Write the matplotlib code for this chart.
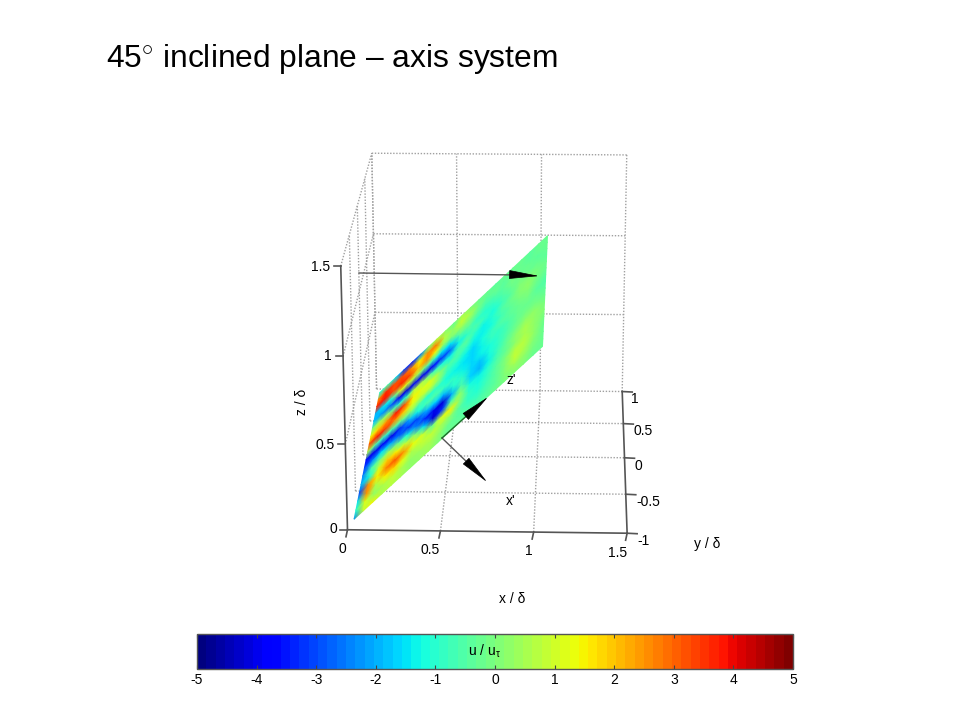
import numpy as np
import matplotlib
matplotlib.use('Agg')
import matplotlib.pyplot as plt
from matplotlib.cm import ScalarMappable
from matplotlib.colors import Normalize

plt.rcParams['font.family'] = ['Liberation Sans', 'DejaVu Sans']
plt.rcParams['axes.unicode_minus'] = False
plt.rcParams['mathtext.fontset'] = 'custom'
plt.rcParams['mathtext.rm'] = 'Liberation Sans'
plt.rcParams['mathtext.it'] = 'Liberation Sans'

x_ticks = [0, 0.5, 1, 1.5]
y_ticks = [-1, -0.5, 0, 0.5, 1]
z_ticks = [0, 0.5, 1, 1.5]
bar_ticks = [-5, -4, -3, -2, -1, 0, 1, 2, 3, 4, 5]

# position along the plane, left to right
plane_u = [0, .05, .1, .15, .2, .25, .3, .35, .4, .45, .5, .55, .6, .65, .7, .75, .8, .85, .9, .95, 1]
# position across the plane, top edge first
plane_v = [1, .9375, .875, .8125, .75, .6875, .625, .5625, .5, .4375, .375, .3125, .25, .1875, .125, .0625, 0]
# u / u_tau
plane_vals = [
    [-1.0, -.5, -1.5, -3.0, -3.4, -2.4, 0.0, 0.7, 0.2, -.2, 0.5, 0.1, -.3, -.3, -.4, -.3, -.2, -.3, -.4, -.3, -.2],
    [2.5, 3.6, 3.2, 3.2, 2.6, 1.5, 2.5, 2.8, 0.7, 0.2, 0.9, 0.5, -.1, -.4, -.3, -.4, -.2, -.3, -.4, -.2, -.3],
    [3.6, 3.8, 3.2, 3.6, 3.4, 2.0, 2.6, 1.5, 0.3, 0.0, 0.3, 0.0, -.4, -.7, -.6, -.4, -.1, -.2, -.3, -.4, -.2],
    [-2.0, -1.5, -1.0, 1.2, 1.0, 0.6, -.3, -.8, -1.5, -1.5, -.6, -.4, -.8, -1.0, -.9, -.6, -.3, -.1, -.2, -.3, -.4],
    [-1.8, -2.2, -2.8, -3.8, -4.2, -3.8, -4.0, -3.6, -3.2, -2.8, -1.4, -.8, -.6, -.9, -1.2, -.7, -.4, 0.0, 0.1, -.1, -.3],
    [0.0, 0.5, 0.0, -1.0, -.8, 0.8, 0.5, -.5, -1.0, -1.3, -.7, -.4, -1.0, -1.4, -1.0, -.6, -.2, 0.1, 0.2, -.1, -.2],
    [1.5, 2.0, 2.6, 3.8, 3.2, 1.5, 1.2, 1.2, 0.2, -.6, -.5, -.9, -1.3, -1.4, -1.1, -.7, -.4, -.1, 0.0, -.2, -.4],
    [3.2, 3.8, 3.4, 2.6, 2.0, 1.2, 0.8, 0.8, 0.2, -.9, -1.0, -1.4, -1.6, -1.2, -.9, -.6, -.4, -.2, -.1, -.4, -.5],
    [0.5, -.5, -.8, -.5, -.2, 0.0, -.5, -1.0, -.9, -1.2, -1.4, -1.5, -1.7, -1.4, -.9, -.8, -.5, -.3, -.2, -.3, -.4],
    [-3.6, -4.0, -3.8, -4.0, -3.2, -2.0, -1.2, -.6, -.6, -.8, -.9, -1.3, -1.6, -1.4, -1.1, -.9, -.6, -.2, -.1, -.1, -.3],
    [-3.0, -2.2, -1.5, -2.0, -2.8, -3.2, -3.0, -2.0, -1.6, -2.0, -1.0, -.8, -1.7, -1.8, -1.2, -.8, -.4, -.1, 0.2, 0.2, -.1],
    [-2.5, -.6, 0.0, 0.5, -.3, -1.2, -2.4, -3.4, -4.0, -4.2, -2.0, -.6, -1.6, -1.9, -1.3, -.7, -.2, 0.2, 0.5, 0.3, 0.0],
    [-2.0, -1.2, 1.0, 2.0, 1.5, 0.8, 0.3, -1.5, -4.2, -3.2, -.5, 0.3, -1.1, -1.4, -1.0, -.6, -.2, 0.3, 0.6, 0.2, -.1],
    [-3.0, 2.5, 1.5, 2.8, 3.2, 2.4, 1.3, 1.0, -.2, 1.0, 1.5, 0.3, -.9, -1.2, -.9, -.4, 0.1, 0.7, 0.7, 0.2, -.2],
    [-1.5, 2.5, 0.5, 1.5, 1.8, 1.2, 0.6, 0.8, 0.8, 0.6, 0.2, -.4, -.8, -1.0, -.7, -.4, 0.1, 0.8, 0.6, 0.1, -.3],
    [-1.0, 1.2, 0.3, 0.5, 0.8, 0.6, 0.3, 0.4, 0.5, 0.2, -.2, -.4, -.6, -.7, -.6, -.4, 0.0, 0.4, 0.3, -.1, -.3],
    [-2.5, 0.8, 1.5, 0.6, 0.7, 0.5, 0.3, 0.3, 0.4, 0.1, -.2, -.3, -.4, -.5, -.4, -.3, -.1, 0.1, 0.0, -.2, -.3],
]

jet = plt.get_cmap('jet', 64)

# tie the 3d box to the picture: world corners and where they land in pixels
box_world = np.array([
    [0, -1, 0], [.5, -1, 0], [1, -1, 0], [1.5, -1, 0],
    [0, -1, .5], [0, -1, 1], [0, -1, 1.5],
    [1.5, -.5, 0], [1.5, 0, 0], [1.5, .5, 0], [1.5, 1, 0],
    [0, 1, 0], [0, 1, 1.5], [.5, 1, 1.5], [1, 1, 1.5], [1.5, 1, 1.5], [1.5, 1, 1],
])
box_pixels = np.array([
    [347, 529], [441, 532], [534, 533], [627, 533],
    [345, 443], [343, 356], [341, 267],
    [626, 494], [624, 458], [623, 423], [622, 391],
    [377, 390], [372, 153], [456, 153], [541, 155], [627, 155], [626, 236],
]) / 500.0


def fit_camera(world, pix):
    rows = []
    for (X, Y, Z), (u, v) in zip(world, pix):
        rows.append([X, Y, Z, 1, 0, 0, 0, 0, -u*X, -u*Y, -u*Z, -u])
        rows.append([0, 0, 0, 0, X, Y, Z, 1, -v*X, -v*Y, -v*Z, -v])
    return np.linalg.svd(np.array(rows))[2][-1].reshape(3, 4)


cam = fit_camera(box_world, box_pixels)


def project(x, y, z):
    x, y, z = np.asarray(x, float), np.asarray(y, float), np.asarray(z, float)
    w = cam[2, 0]*x + cam[2, 1]*y + cam[2, 2]*z + cam[2, 3]
    px = (cam[0, 0]*x + cam[0, 1]*y + cam[0, 2]*z + cam[0, 3]) / w
    py = (cam[1, 0]*x + cam[1, 1]*y + cam[1, 2]*z + cam[1, 3]) / w
    return px*500, py*500


fig = plt.figure(figsize=(9.6, 7.2), dpi=100)
ax = fig.add_axes([0, 0, 1, 1])
ax.set_xlim(0, 960)
ax.set_ylim(720, 0)
ax.axis('off')


def line3d(p, q, **kw):
    px, py = project([p[0], q[0]], [p[1], q[1]], [p[2], q[2]])
    ax.plot(px, py, **kw)


grid = dict(color='#a0a0a0', lw=1.0, ls=(0, (1, 1.2)), zorder=1)
solid = dict(color='#555555', lw=1.2, zorder=2)

# back wall
for z in z_ticks[1:]:
    line3d((0, 1, z), (1.5, 1, z), **grid)
for x in x_ticks:
    line3d((x, 1, 0), (x, 1, 1.5), **grid)
# floor
for x in x_ticks[1:3]:
    line3d((x, -1, 0), (x, 1, 0), **grid)
for y in y_ticks[1:]:
    line3d((0, y, 0), (1.5, y, 0), **grid)
# left wall
for z in z_ticks[1:]:
    line3d((0, -1, z), (0, 1, z), **grid)
for y in y_ticks[1:]:
    line3d((0, y, 0), (0, y, 1.5), **grid)

# the inclined plane, x = z
U, V = np.meshgrid(plane_u, plane_v)
plane_x = 0.03 + U*1.01
plane_y = -0.93 + 1.8*V
mesh_x, mesh_y = project(plane_x, plane_y, plane_x)
ax.pcolormesh(mesh_x, mesh_y, np.array(plane_vals), shading='gouraud',
              cmap=jet, vmin=-5, vmax=5, zorder=3)

# axis lines and ticks
line3d((0, -1, 0), (1.5, -1, 0), **solid)
line3d((1.5, -1, 0), (1.5, 1, 0), **solid)
line3d((0, -1, 0), (0, -1, 1.5), **solid)
for x in x_ticks:
    px, py = project(x, -1, 0)
    ax.plot([px, px - 1.5], [py, py + 7], **solid)
for y in y_ticks:
    px, py = project(1.5, y, 0)
    ax.plot([px, px + 10], [py, py + 0.5], **solid)
for z in z_ticks:
    px, py = project(0, -1, z)
    ax.plot([px, px - 7], [py, py], **solid)

# tick labels
tick_size = 10
for s, px, py in zip(['0', '0.5', '1', '1.5'], [342, 430, 529, 618], [549, 550, 551, 553]):
    ax.text(px, py, s, fontsize=tick_size, ha='center', va='center')
for s, px, py in zip(['-1', '-0.5', '0', '0.5', '1'], [643, 648, 638, 643, 635], [541, 502, 466, 431, 399]):
    ax.text(px, py, s, fontsize=tick_size, ha='center', va='center')
for s, px, py in zip(['0', '0.5', '1', '1.5'], [333, 325, 328, 321], [529, 445, 356, 267]):
    ax.text(px, py, s, fontsize=tick_size, ha='center', va='center')

ax.text(512, 599, 'x / δ', fontsize=tick_size, ha='center', va='center')
ax.text(707, 544, 'y / δ', fontsize=tick_size, ha='center', va='center')
ax.text(302, 402, 'z / δ', fontsize=tick_size, ha='center', va='center', rotation=90)
ax.text(511, 380, "z'", fontsize=tick_size, ha='center', va='center', zorder=6)
ax.text(511, 501, "x'", fontsize=tick_size, ha='center', va='center', zorder=6)


def arrow(start, base, tip, shaft='#555555'):
    ax.plot([start[0], base[0]], [start[1], base[1]], color=shaft, lw=1.0, zorder=4)
    ax.annotate('', xy=tip, xytext=base, zorder=5,
                arrowprops=dict(arrowstyle='-|>,head_length=1.5,head_width=0.22', color='black',
                                lw=0.5, shrinkA=0, shrinkB=0, mutation_scale=13))


arrow((359, 273), (519, 275), (539, 276))
arrow((442, 438), (470, 465), (487, 482))
arrow((442, 438), (472, 411), (488, 397), shaft='#1f6b2a')

ax.text(106, 58.5, r'45$^{\circ}$ inclined plane – axis system', fontsize=22.9, ha='left', va='center')

# colour bar
cax = fig.add_axes([197/960, 1 - 669/720, 596/960, 35/720])
cb = fig.colorbar(ScalarMappable(norm=Normalize(-5, 5), cmap=jet), cax=cax,
                  orientation='horizontal', ticks=bar_ticks)
cb.outline.set_edgecolor('#555555')
cb.outline.set_linewidth(1.0)
cax.tick_params(direction='in', top=True, bottom=True, length=3, width=0.8,
                color='#444444', labelsize=tick_size, pad=3)
cax.text(0.482, 0.5, r'u / u$_{\tau}$', transform=cax.transAxes, fontsize=tick_size,
         ha='center', va='center')

fig.savefig('out.png', dpi=100)
